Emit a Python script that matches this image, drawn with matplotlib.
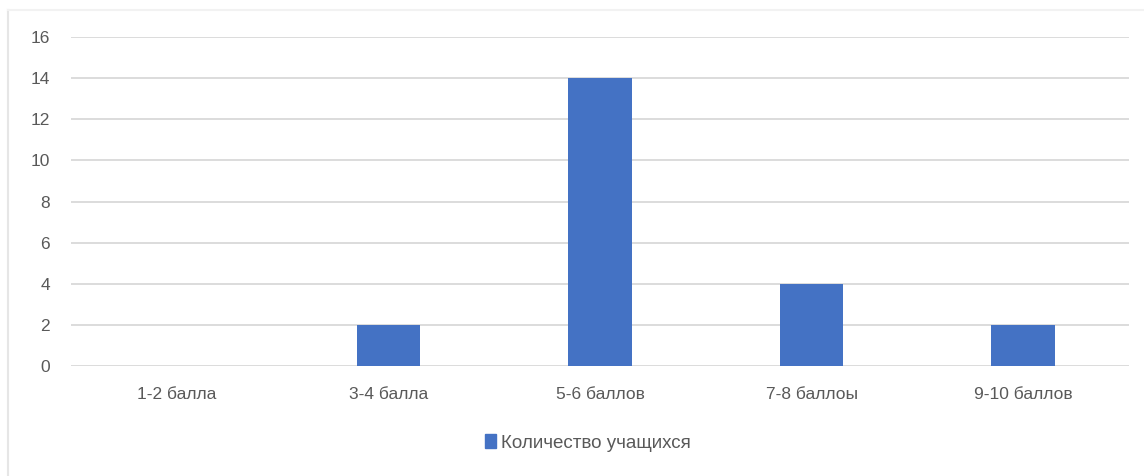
import matplotlib
matplotlib.use("Agg")
import matplotlib.pyplot as plt
from matplotlib.lines import Line2D
from matplotlib.patches import Patch

categories = ["1-2 балла", "3-4 балла", "5-6 баллов", "7-8 баллоы", "9-10 баллов"]
values = [0, 2, 14, 4, 2]
series_name = "Количество учащихся"
yticks = [0, 2, 4, 6, 8, 10, 12, 14, 16]

plt.rcParams['font.family'] = ['Liberation Sans', 'DejaVu Sans']

fig = plt.figure(figsize=(11.44, 4.76), dpi=100)
ax = fig.add_axes([71/1144, 1 - 366/476, (1129-71)/1144, (366-37)/476])

x = list(range(len(categories)))
ax.bar(x, values, width=0.3, color="#4472C4", zorder=3)
ax.set_xlim(-0.5, len(categories) - 0.5)
ax.set_ylim(0, 16)
ax.set_yticks(yticks)
ax.set_xticks(x)
ax.set_xticklabels(categories)
ax.grid(axis='y', color="#d9d9d9", linewidth=1.3, zorder=0)
for s in ax.spines.values():
    s.set_visible(False)
ax.tick_params(axis='both', length=0, colors="#595959", labelsize=12.5)
ax.tick_params(axis='y', pad=15)
ax.tick_params(axis='x', pad=15)

handles = [Patch(color="#4472C4", label=series_name)]
leg = fig.legend(handles=handles, loc='center', bbox_to_anchor=(588/1144, 1 - 443/476),
                 frameon=False, fontsize=13.5, handlelength=0.6, handleheight=0.7,
                 handletextpad=0.25)
for t in leg.get_texts():
    t.set_color("#595959")

# outer border
fig.add_artist(Line2D([8/1144, 8/1144], [0, 1 - 10/476], transform=fig.transFigure, color="#e6e6e6", linewidth=1.5))
fig.add_artist(Line2D([8/1144, 1], [1 - 10/476, 1 - 10/476], transform=fig.transFigure, color="#f2f2f2", linewidth=1.5))

fig.savefig("out.png", dpi=100)
